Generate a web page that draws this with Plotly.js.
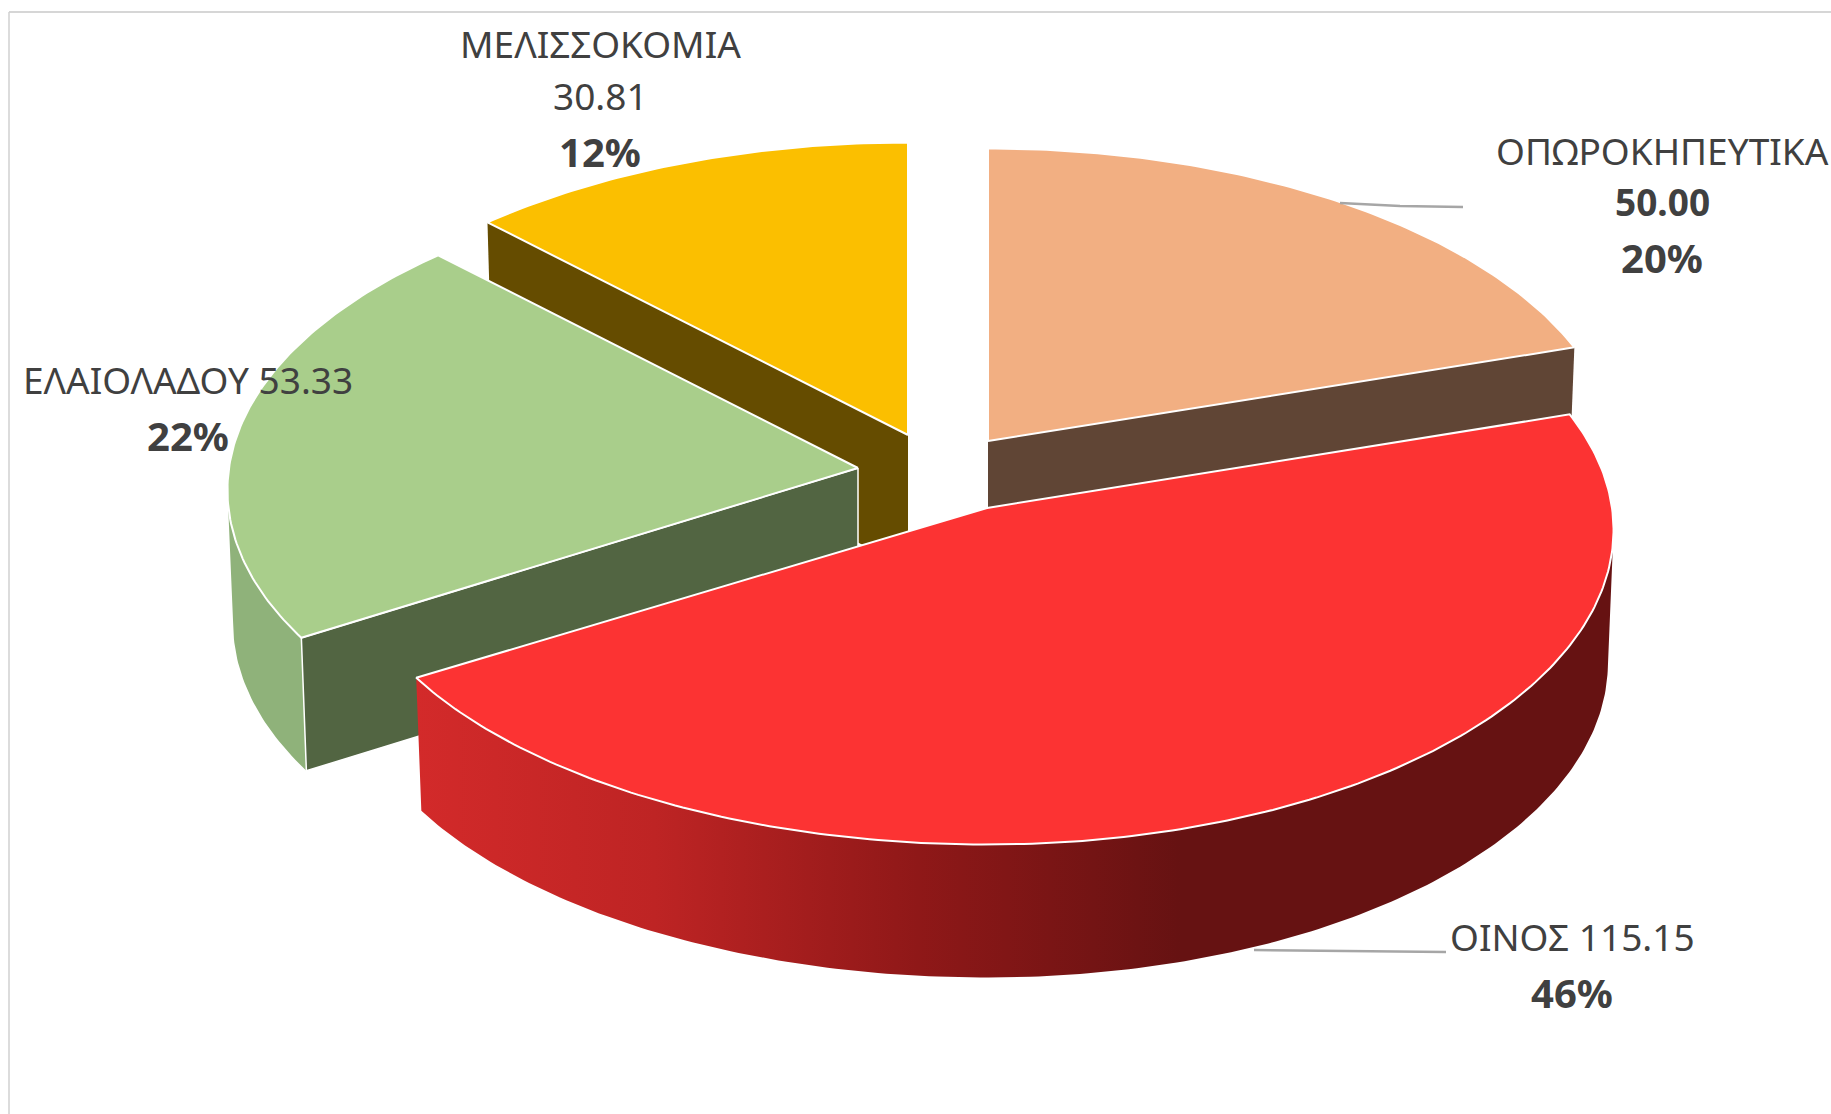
<!DOCTYPE html>
<html>
<head>
<meta charset="utf-8">
<script src="https://cdn.plot.ly/plotly-3.0.1.min.js"></script>
<style>html,body{margin:0;padding:0;background:#fff;overflow:hidden}</style>
</head>
<body>
<div id="chart" style="width:1831px;height:1114px"></div>
<script>
// ---------- data ----------
const categories = ['ΟΠΩΡΟΚΗΠΕΥΤΙΚΑ', 'ΟΙΝΟΣ', 'ΕΛΑΙΟΛΑΔΟΥ', 'ΜΕΛΙΣΣΟΚΟΜΙΑ'];
const values = [50.00, 115.15, 53.33, 30.81];
const percentLabels = ['20%', '46%', '22%', '12%'];
const topColours = ['#F2AF82', '#FC3333', '#A9CE8B', '#FBBF00'];
const wallColours = ['#604535', '#661212', '#526542', '#654C00'];

// ---------- pie projection (drawing set-up, not data) ----------
const apexX = [988, 987, 858, 908];
const apexY = [441, 508, 468, 435];
const radiusRight = [629, 625, 625, 625];
const radiusLeft = [625, 645, 629, 630];
const radiusDepth = 313, perspective = 0.07, thickness = 133, bottomScale = 0.991;
const drawOrder = [3, 0, 2, 1];
const labelFont = '"Liberation Sans Narrow","Noto Sans",sans-serif';
const labelColour = '#404040';

const total = values.reduce((a, b) => a + b, 0);
const turn = 2 * Math.PI;
const starts = [], ends = [];
values.reduce((acc, v, i) => { starts[i] = acc / total * turn; ends[i] = (acc + v) / total * turn; return acc + v; }, 0);

function rimPoint(i, t, lower) {
  const u = Math.sin(t), v = Math.cos(t), k = 1 / (1 + perspective * v);
  const rx = u < 0 ? radiusLeft[i] : radiusRight[i];
  const s = lower ? bottomScale : 1;
  return [apexX[i] + u * rx * k * s, apexY[i] - v * radiusDepth * k + (lower ? thickness : 0)];
}
function arc(i, a, b, lower) {
  const n = Math.max(8, Math.round((b - a) * 80)), pts = [];
  for (let j = 0; j <= n; j++) pts.push(rimPoint(i, a + (b - a) * j / n, lower));
  return pts;
}
function poly(pts, colour, extra) {
  return Object.assign({
    type: 'scatter', mode: 'lines', hoverinfo: 'skip', showlegend: false,
    x: pts.map(p => p[0]).concat(pts[0][0]), y: pts.map(p => p[1]).concat(pts[0][1]),
    fill: 'toself', fillcolor: colour, line: { color: '#ffffff', width: 2 }
  }, extra || {});
}
// the outer wall is only seen between the two widest points of the projected pie
const widest = Math.acos(-perspective);
function frontRim(i, a, b) {
  const from = Math.max(a, widest), to = Math.min(b, turn - widest);
  return arc(i, from, to).concat(arc(i, from, to, true).reverse());
}

const redGradient = {
  type: 'horizontal', start: 415, stop: 1612,
  colorscale: [[0, '#D32A2A'], [0.2, '#BE2424'], [0.42, '#8F1818'], [0.64, '#661212'], [1, '#661212']]
};

const traces = [];
drawOrder.forEach(i => {
  const a = starts[i], b = ends[i];
  const centre = [apexX[i], apexY[i]], low = [apexX[i], apexY[i] + thickness];
  if (i === 0) traces.push(poly([centre, rimPoint(i, b), rimPoint(i, b, true), low], wallColours[i], { line: { width: 0 } }));
  if (i === 3) traces.push(poly([centre, rimPoint(i, a), rimPoint(i, a, true), low], wallColours[i], { line: { width: 0 } }));
  if (i === 2) {
    traces.push(poly(frontRim(i, a, b), '#8FB27A', { line: { width: 0 } }));
    traces.push(poly([centre, rimPoint(i, a), rimPoint(i, a, true), low], wallColours[i], { line: { color: '#ffffff', width: 1.5 } }));
  }
  if (i === 1) {
    traces.push(poly(frontRim(i, a, b), wallColours[i], { fillgradient: redGradient, line: { width: 0 } }));
  }
  traces.push(poly([centre].concat(arc(i, a, b)), topColours[i]));
});

// leader lines
const leaderX = [[1340, 1400, 1463], [1254, 1350, 1446]];
const leaderY = [[203, 206, 207], [950, 951, 952]];
leaderX.forEach((x, j) => traces.push({
  type: 'scatter', mode: 'lines', x: x, y: leaderY[j], hoverinfo: 'skip', showlegend: false,
  line: { color: '#A6A6A6', width: 2.5 }
}));

const val = v => v.toFixed(2);
function note(text, x, y, size, bold) {
  return {
    text: bold ? '<b>' + text + '</b>' : text, x: x, y: y, xref: 'x', yref: 'y', showarrow: false,
    xanchor: 'center', yanchor: 'middle',
    font: { family: labelFont, size: size, color: labelColour }
  };
}
const S = 37, B = 40;
const annotations = [
  note(categories[3], 600, 43, S), note(val(values[3]), 600, 95, S), note(percentLabels[3], 600, 151, B, true),
  note(categories[0], 1662, 150, S), note(val(values[0]), 1662, 201, S, true), note(percentLabels[0], 1662, 257, B, true),
  note(categories[2] + ' ' + val(values[2]), 188, 379, S), note(percentLabels[2], 188, 435, B, true),
  note(categories[1] + ' ' + val(values[1]), 1572, 936, S), note(percentLabels[1], 1572, 992, B, true)
];

const hidden = { visible: false, fixedrange: true };
const layout = {
  width: 1831, height: 1114, margin: { l: 0, r: 0, t: 0, b: 0, pad: 0 },
  paper_bgcolor: '#ffffff', plot_bgcolor: '#ffffff', showlegend: false, hovermode: false,
  xaxis: Object.assign({ range: [0, 1831] }, hidden),
  yaxis: Object.assign({ range: [1114, 0] }, hidden),
  annotations: annotations,
  shapes: [
    { type: 'line', xref: 'x', yref: 'y', x0: 9, x1: 1831, y0: 12, y1: 12, line: { color: '#C8C8C8', width: 1.5 } },
    { type: 'line', xref: 'x', yref: 'y', x0: 9, x1: 9, y0: 12, y1: 1114, line: { color: '#D0D0D0', width: 1.5 } }
  ]
};
Plotly.newPlot('chart', traces, layout, { displayModeBar: false, staticPlot: true });
</script>
</body>
</html>
